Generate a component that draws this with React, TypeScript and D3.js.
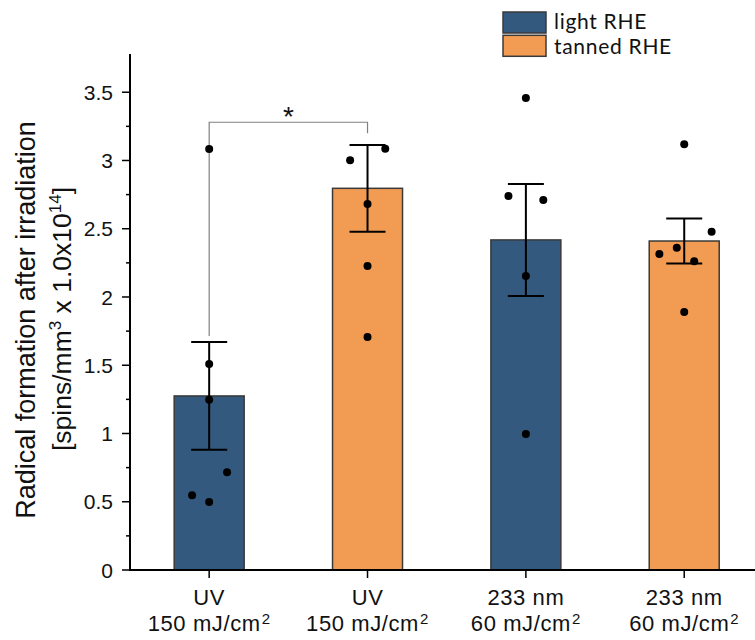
import React from "react";
import * as d3 from "d3";

const categories = ["UV|150 mJ/cm", "UV|150 mJ/cm", "233 nm|60 mJ/cm", "233 nm|60 mJ/cm"];
const groups = ["light RHE", "tanned RHE", "light RHE", "tanned RHE"];
const means = [1.275, 2.796, 2.418, 2.41];
const errors = [0.395, 0.318, 0.41, 0.165];
// individual measurements: [jitter in category units, value]
const points1: [number, number][] = [[0, 3.084], [0, 1.509], [0, 1.248], [0.113, 0.716], [-0.108, 0.547], [0, 0.498]];
const points2: [number, number][] = [[0.112, 3.086], [-0.11, 3.001], [0, 2.681], [0, 2.227], [0, 1.707]];
const points3: [number, number][] = [[0, 3.458], [-0.11, 2.74], [0.11, 2.711], [0, 2.154], [0, 0.996]];
const points4: [number, number][] = [[0, 3.119], [0.173, 2.478], [-0.047, 2.361], [-0.157, 2.315], [0.063, 2.262], [0, 1.89]];
const allPoints = [points1, points2, points3, points4];
const yTicks = [0, 0.5, 1, 1.5, 2, 2.5, 3, 3.5];
const yMinorTicks = [0.25, 0.75, 1.25, 1.75, 2.25, 2.75, 3.25];
const legendItems = ["light RHE", "tanned RHE"];
const colors: Record<string, string> = { "light RHE": "#34597f", "tanned RHE": "#f29c53" };

const W = 755;
const H = 640;
const x = d3.scaleLinear().domain([0.5, 4.5]).range([130, 763.4]);
const y = d3.scaleLinear().domain([0, 3.78]).range([570, 54]);
const barW = 0.442;
const fmt = (v: number) => (v === 0 ? "0" : d3.format("")(v));

export default function App() {
  const font = "'Liberation Sans', Arial, sans-serif";
  const bx1 = x(1);
  const bx2 = x(2);
  return (
    <svg width={W} height={H} style={{ position: "absolute", left: 0, top: 0, background: "#fff" }}>
      {/* bars */}
      {means.map((m, i) => (
        <rect
          key={"b" + i}
          x={x(i + 1 - barW / 2)}
          y={y(m)}
          width={x(i + 1 + barW / 2) - x(i + 1 - barW / 2)}
          height={y(0) - y(m)}
          fill={colors[groups[i]]}
          stroke="#3a3a3a"
          strokeWidth={1.5}
        />
      ))}
      {/* significance bracket */}
      <path
        d={`M${bx1},${y(1.715)} V${y(3.28)} H${bx2} V${y(3.2)}`}
        fill="none"
        stroke="#808080"
        strokeWidth={1.2}
      />
      <text x={(bx1 + bx2) / 2} y={126} fontFamily={font} fontSize={28} textAnchor="middle" fill="#111">*</text>
      {/* error bars */}
      {means.map((m, i) => {
        const cx = x(i + 1);
        const cw = 18;
        return (
          <g key={"e" + i} stroke="#000" strokeWidth={2}>
            <line x1={cx} x2={cx} y1={y(m + errors[i])} y2={y(m - errors[i])} />
            <line x1={cx - cw} x2={cx + cw} y1={y(m + errors[i])} y2={y(m + errors[i])} />
            <line x1={cx - cw} x2={cx + cw} y1={y(m - errors[i])} y2={y(m - errors[i])} />
          </g>
        );
      })}
      {/* points */}
      {allPoints.map((pts, i) =>
        pts.map(([j, v], k) => <circle key={`p${i}-${k}`} cx={x(i + 1 + j)} cy={y(v)} r={4} fill="#000" />)
      )}
      {/* y axis */}
      <line x1={130} x2={130} y1={y(3.78)} y2={y(0) + 1} stroke="#000" strokeWidth={2} />
      {yTicks.map((t) => (
        <g key={"yt" + t}>
          <line x1={122} x2={130} y1={y(t)} y2={y(t)} stroke="#000" strokeWidth={1.5} />
          <text x={113} y={y(t)} dy="0.36em" textAnchor="end" fontFamily={font} fontSize={21} fill="#111">
            {fmt(t)}
          </text>
        </g>
      ))}
      {yMinorTicks.map((t) => (
        <line key={"ym" + t} x1={126} x2={130} y1={y(t)} y2={y(t)} stroke="#000" strokeWidth={1.5} />
      ))}
      {/* x axis */}
      <line x1={129} x2={W} y1={y(0)} y2={y(0)} stroke="#000" strokeWidth={2} />
      {categories.map((c, i) => {
        const [l1, l2] = c.split("|");
        const cx = x(i + 1);
        return (
          <g key={"xt" + i}>
            <line x1={cx} x2={cx} y1={y(0)} y2={y(0) + 8} stroke="#000" strokeWidth={1.5} />
            <text x={cx} y={605} textAnchor="middle" fontFamily={font} fontSize={22} letterSpacing={0.6} fill="#111">
              {l1}
            </text>
            <text x={cx} y={631} textAnchor="middle" fontFamily={font} fontSize={22} letterSpacing={0.6} fill="#111">
              {l2}
              <tspan fontSize={15} dy={-7} dx={1}>2</tspan>
            </text>
          </g>
        );
      })}
      {/* y title */}
      <text
        x={35}
        y={320}
        transform="rotate(-90, 35, 320)"
        textAnchor="middle"
        fontFamily={font}
        fontSize={27}
        fill="#111"
      >
        Radical formation after irradiation
      </text>
      <text
        x={71}
        y={319}
        transform="rotate(-90, 71, 319)"
        textAnchor="middle"
        fontFamily={font}
        fontSize={26.5}
        fill="#111"
      >
        [spins/mm<tspan fontSize={17} dy={-10}>3</tspan>
        <tspan dy={10}> x 1.0x10</tspan>
        <tspan fontSize={17} dy={-10}>14</tspan>
        <tspan dy={10}>]</tspan>
      </text>
      {/* legend */}
      {legendItems.map((g, i) => (
        <g key={"lg" + i}>
          <rect x={503} y={12 + i * 23.3} width={43} height={21} fill={colors[g]} stroke="#3a3a3a" strokeWidth={1.5} />
          <text
            x={554}
            y={29 + i * 25}
            fontFamily="Lato, 'Open Sans', sans-serif"
            fontSize={21}
            letterSpacing={0.7}
            fill="#111"
          >
            {g}
          </text>
        </g>
      ))}
    </svg>
  );
}
